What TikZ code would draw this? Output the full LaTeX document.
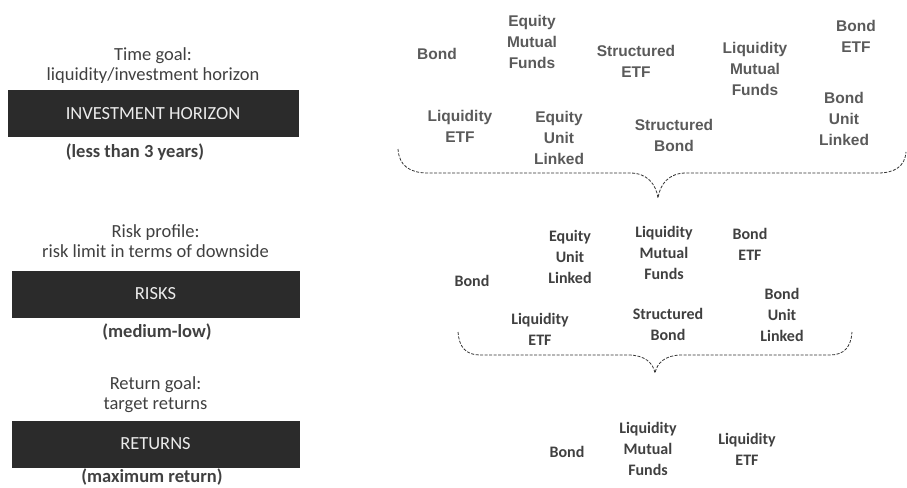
\documentclass[tikz,border=0pt]{standalone}
\usepackage{fontspec}
\setmainfont{Carlito}
\newfontfamily\arialfont{Liberation Sans}
\usetikzlibrary{positioning}
\definecolor{boxdark} {HTML}{2B2B2B}
\definecolor{textdark}{HTML}{404040}
\definecolor{textgray}{HTML}{5A5A5A}

\begin{document}
\begin{tikzpicture}[x=1pt, y=-1pt,
  goal/.style={align=center, font=\fontsize{18.5}{20}\selectfont,
    text=textdark, inner sep=0pt},
  bar/.style={rectangle, fill=boxdark, draw=boxdark, minimum height=46pt,
    font=\fontsize{18.5}{20}\selectfont, text=white!92!black, inner sep=0pt},
  note/.style={font=\bfseries\fontsize{18.5}{20}\selectfont, text=textdark,
    inner sep=0pt},
  prod/.style={align=center, font=\arialfont\bfseries\fontsize{15.5}{21}\selectfont,
    text=textgray, inner sep=0pt},
  pick/.style={align=center, font=\bfseries\fontsize{16}{21}\selectfont,
    text=textdark, inner sep=0pt},
  brc/.style={draw=black!80, line width=0.8pt, dash pattern=on 3pt off 1.5pt},
]
\useasboundingbox (0,0) rectangle (907,487);
%% Left column: goals
\node[goal] (tgoal) at (153,65.5) {Time goal:\\liquidity/investment horizon};
\node[bar, minimum width=290pt] (HOR) at (153,113.5) {INVESTMENT HORIZON};
\node[note] (hornote) at (135,152) {(less than 3 years)};

\node[goal] (rgoal) at (155.5,241.5) {Risk profile:\\risk limit in terms of downside};
\node[bar, minimum width=287pt] (RSK) at (155.5,294) {RISKS};
\node[note] (rsknote) at (157,332) {(medium-low)};

\node[goal] (retgoal) at (155.5,395) {Return goal:\\target returns};
\node[bar, minimum width=287pt] (RET) at (155.5,444) {RETURNS};
\node[note] (retnote) at (152,477) {(maximum return)};

%% Full product universe
\node[prod] (u1) at (437,54)  {Bond};
\node[prod] (u2) at (532,42)  {Equity\\Mutual\\Funds};
\node[prod] (u3) at (636,61)  {Structured\\ETF};
\node[prod] (u4) at (755,69)  {Liquidity\\Mutual\\Funds};
\node[prod] (u5) at (856,36)  {Bond\\ETF};
\node[prod] (u6) at (460,126) {Liquidity\\ETF};
\node[prod] (u7) at (559,138) {Equity\\Unit\\Linked};
\node[prod] (u8) at (674,135) {Structured\\Bond};
\node[prod] (u9) at (844,119) {Bond\\Unit\\Linked};

%% First brace
\coordinate (b1l) at (398,149);
\coordinate (b1t) at (658,198);
\coordinate (b1r) at (906,152);
\draw[brc] (b1l) .. controls (399,166) and (410,173) .. (428,173)
  -- (630,173) .. controls (647,173) and (656,184) .. (b1t)
  .. controls (660,184) and (669,173) .. (686,173)
  -- (878,173) .. controls (895,173) and (905,166) .. (b1r);

%% After risk filter
\node[pick] (r1) at (472,281) {Bond};
\node[pick] (r2) at (570,257) {Equity\\Unit\\Linked};
\node[pick] (r3) at (664,253) {Liquidity\\Mutual\\Funds};
\node[pick] (r4) at (750,244) {Bond\\ETF};
\node[pick] (r5) at (540,329) {Liquidity\\ETF};
\node[pick] (r6) at (668,324) {Structured\\Bond};
\node[pick] (r7) at (782,315) {Bond\\Unit\\Linked};

%% Second brace
\coordinate (b2l) at (458,332);
\coordinate (b2t) at (655,373);
\coordinate (b2r) at (852,332);
\draw[brc] (b2l) .. controls (459,347) and (466,355) .. (480,355)
  -- (628,355) .. controls (645,355) and (653,363) .. (b2t)
  .. controls (657,363) and (665,355) .. (682,355)
  -- (830,355) .. controls (844,355) and (851,347) .. (b2r);

%% After return filter
\node[pick] (f1) at (567,452) {Bond};
\node[pick] (f2) at (648,449) {Liquidity\\Mutual\\Funds};
\node[pick] (f3) at (747,449) {Liquidity\\ETF};
\end{tikzpicture}
\end{document}
